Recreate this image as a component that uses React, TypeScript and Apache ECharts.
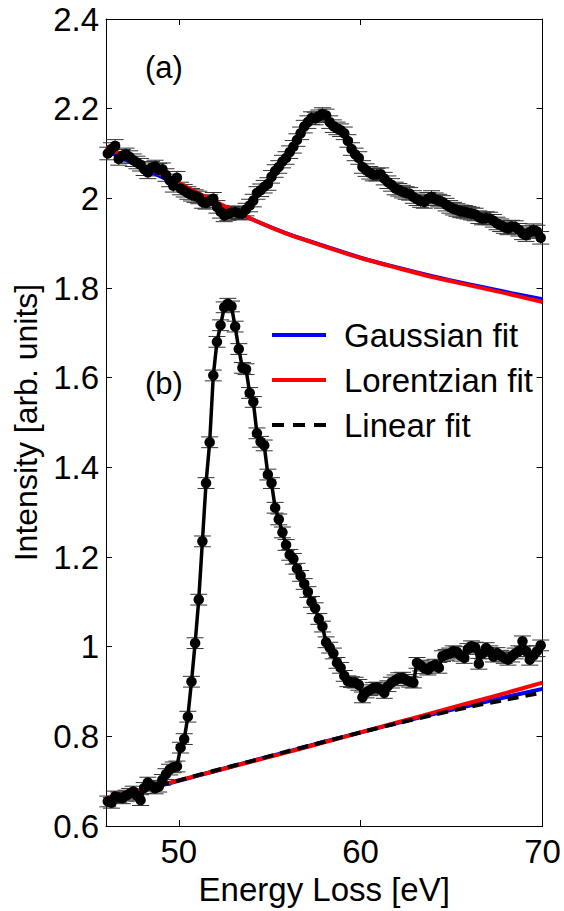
import React, { useEffect, useRef } from "react";
import * as echarts from "echarts";

// Energy grid of the measured spectra (eV)
const ENERGY = [
  46.1, 46.3, 46.5, 46.7, 46.9, 47.1, 47.3, 47.5, 47.7, 47.9,
  48.1, 48.3, 48.5, 48.7, 48.9, 49.1, 49.3, 49.5, 49.7, 49.9,
  50.1, 50.3, 50.5, 50.7, 50.9, 51.1, 51.3, 51.5, 51.7, 51.9,
  52.1, 52.3, 52.5, 52.7, 52.9, 53.1, 53.3, 53.5, 53.7, 53.9,
  54.1, 54.3, 54.5, 54.7, 54.9, 55.1, 55.3, 55.5, 55.7, 55.9,
  56.1, 56.3, 56.5, 56.7, 56.9, 57.1, 57.3, 57.5, 57.7, 57.9,
  58.1, 58.3, 58.5, 58.7, 58.9, 59.1, 59.3, 59.5, 59.7, 59.9,
  60.1, 60.3, 60.5, 60.7, 60.9, 61.1, 61.3, 61.5, 61.7, 61.9,
  62.1, 62.3, 62.5, 62.7, 62.9, 63.1, 63.3, 63.5, 63.7, 63.9,
  64.1, 64.3, 64.5, 64.7, 64.9, 65.1, 65.3, 65.5, 65.7, 65.9,
  66.1, 66.3, 66.5, 66.7, 66.9, 67.1, 67.3, 67.5, 67.7, 67.9,
  68.1, 68.3, 68.5, 68.7, 68.9, 69.1, 69.3, 69.5, 69.7, 69.9,
];

// Spectrum (a)
const SPEC_A = [
  2.100, 2.110, 2.117, 2.088, 2.095, 2.098, 2.092, 2.085, 2.080, 2.075,
  2.065, 2.058, 2.068, 2.071, 2.064, 2.065, 2.052, 2.040, 2.028, 2.046,
  2.022, 2.017, 2.012, 2.008, 2.005, 2.002, 1.992, 1.990, 1.994, 1.999,
  1.981, 1.970, 1.962, 1.965, 1.968, 1.969, 1.967, 1.966, 1.975, 1.984,
  1.995, 2.012, 2.018, 2.026, 2.032, 2.048, 2.061, 2.070, 2.082, 2.090,
  2.103, 2.115, 2.130, 2.145, 2.160, 2.170, 2.179, 2.178, 2.183, 2.188,
  2.185, 2.170, 2.161, 2.156, 2.152, 2.145, 2.128, 2.110, 2.098, 2.090,
  2.070, 2.063, 2.057, 2.053, 2.053, 2.054, 2.044, 2.036, 2.030, 2.022,
  2.019, 2.015, 2.012, 2.010, 2.003, 1.998, 1.994, 1.992, 1.999, 2.003,
  1.998, 1.995, 1.992, 1.986, 1.981, 1.977, 1.974, 1.971, 1.970, 1.968,
  1.966, 1.964, 1.958, 1.955, 1.956, 1.955, 1.950, 1.944, 1.940, 1.936,
  1.933, 1.937, 1.936, 1.930, 1.922, 1.918, 1.925, 1.929, 1.926, 1.912,
];

// Spectrum (b)
const SPEC_B = [
  0.655, 0.652, 0.666, 0.664, 0.662, 0.668, 0.672, 0.677, 0.668, 0.658,
  0.685, 0.697, 0.690, 0.684, 0.688, 0.703, 0.716, 0.726, 0.731, 0.733,
  0.775, 0.794, 0.844, 0.922, 1.008, 1.105, 1.235, 1.365, 1.456, 1.605,
  1.680, 1.717, 1.757, 1.765, 1.759, 1.714, 1.664, 1.622, 1.619, 1.566,
  1.546, 1.476, 1.457, 1.449, 1.384, 1.365, 1.310, 1.284, 1.255, 1.227,
  1.205, 1.196, 1.174, 1.158, 1.140, 1.122, 1.100, 1.086, 1.062, 1.045,
  1.010, 0.998, 0.985, 0.964, 0.953, 0.935, 0.923, 0.921, 0.920, 0.915,
  0.887, 0.898, 0.903, 0.908, 0.909, 0.905, 0.897, 0.912, 0.920, 0.925,
  0.930, 0.931, 0.926, 0.922, 0.920, 0.964, 0.958, 0.952, 0.949, 0.956,
  0.960, 0.953, 0.979, 0.982, 0.985, 0.990, 0.988, 0.980, 0.975, 0.995,
  1.001, 0.998, 0.962, 0.985, 0.997, 0.990, 0.978, 0.986, 0.980, 0.975,
  0.971, 0.978, 0.985, 0.990, 1.012, 0.990, 0.971, 0.980, 0.990, 1.003,
];

const ERR_A = 0.014;
const ERR_B = 0.012;

// Background fits
const FIT_E = [46, 48, 50, 52, 54, 56, 58, 60, 62, 64, 66, 68, 70];
const GAUSS_A = [2.107, 2.068, 2.030, 1.991, 1.954, 1.921, 1.894, 1.868, 1.846, 1.826, 1.808, 1.791, 1.775];
const LOR_A = [2.115, 2.074, 2.034, 1.993, 1.954, 1.920, 1.893, 1.867, 1.845, 1.824, 1.806, 1.788, 1.769];
const GAUSS_B = [0.658, 0.680, 0.701, 0.723, 0.745, 0.766, 0.788, 0.809, 0.830, 0.850, 0.869, 0.888, 0.906];
const LOR_B = [0.662, 0.682, 0.702, 0.723, 0.744, 0.765, 0.787, 0.809, 0.831, 0.853, 0.875, 0.897, 0.920];
const LIN_B = [0.660, 0.681, 0.702, 0.724, 0.745, 0.767, 0.788, 0.809, 0.829, 0.848, 0.866, 0.882, 0.898];

const X_TICKS = [50, 60, 70];
const Y_TICKS = [0.6, 0.8, 1.0, 1.2, 1.4, 1.6, 1.8, 2.0, 2.2, 2.4];
const LEGEND = ["Gaussian fit", "Lorentzian fit", "Linear fit"];

const FONT = "'Liberation Sans', Arial, Helvetica, sans-serif";
const FS = 33;

function pairs(xs: number[], ys: number[]) {
  return xs.map((x, i) => [x, ys[i]]);
}
function errTriples(xs: number[], ys: number[], e: number) {
  return xs.map((x, i) => [x, ys[i], e]);
}

function errorBarSeries(data: number[][]) {
  return {
    type: "custom",
    silent: true,
    clip: false,
    data,
    encode: { x: 0, y: 1 },
    renderItem: (params: any, api: any) => {
      const x = api.value(0);
      const y = api.value(1);
      const e = api.value(2);
      const hi = api.coord([x, y + e]);
      const lo = api.coord([x, y - e]);
      const w = 8.5;
      const st = { stroke: "#333", lineWidth: 1 };
      return {
        type: "group",
        children: [
          { type: "line", shape: { x1: hi[0], y1: hi[1], x2: lo[0], y2: lo[1] }, style: st },
          { type: "line", shape: { x1: hi[0] - w, y1: hi[1], x2: hi[0] + w, y2: hi[1] }, style: st },
          { type: "line", shape: { x1: lo[0] - w, y1: lo[1], x2: lo[0] + w, y2: lo[1] }, style: st },
        ],
      };
    },
  };
}

function dataSeries(name: string, data: number[][]) {
  return {
    type: "line",
    name,
    data,
    clip: false,
    symbol: "circle",
    symbolSize: 10.5,
    lineStyle: { color: "#000", width: 3.5 },
    itemStyle: { color: "#000" },
  };
}

function fitSeries(name: string, ys: number[], color: string, dashed = false) {
  return {
    type: "line",
    name,
    data: pairs(FIT_E, ys),
    smooth: 0.3,
    symbol: "none",
    lineStyle: { color, width: 4, type: dashed ? [11, 7] : "solid" },
    itemStyle: { color },
  };
}

export default function App() {
  const ref = useRef<HTMLDivElement>(null);
  useEffect(() => {
    if (!ref.current) return;
    const chart = echarts.init(ref.current, undefined, { renderer: "svg" });
    const axisCommon = {
      type: "value",
      axisLine: { show: true, onZero: false, lineStyle: { color: "#000", width: 1 } },
      splitLine: { show: false },
    };
    chart.setOption({
      animation: false,
      backgroundColor: "#fff",
      textStyle: { fontFamily: FONT },
      grid: { left: 106, right: 21.5, top: 19, bottom: 78, containLabel: false },
      legend: {
        data: [
          { name: LEGEND[0], icon: "rect" },
          { name: LEGEND[1], icon: "rect" },
          { name: LEGEND[2], icon: "path://M0,0h12v4h-12z M21,0h12v4h-12z M42,0h12v4h-12z" },
        ],
        orient: "vertical",
        left: 272,
        top: 318.5,
        padding: 0,
        itemGap: 12,
        itemWidth: 54,
        itemHeight: 4,
        textStyle: { fontFamily: FONT, fontSize: FS, color: "#000", lineHeight: FS, padding: [0, 0, 0, 13] },
        selectedMode: false,
      },
      xAxis: [
        {
          ...axisCommon,
          position: "bottom",
          min: 46,
          max: 70,
          name: "Energy Loss [eV]",
          nameLocation: "middle",
          nameGap: 45,
          nameTextStyle: { fontFamily: FONT, fontSize: FS, color: "#000" },
          axisTick: { show: true, inside: true, length: 6, customValues: X_TICKS, lineStyle: { color: "#000" } },
          axisLabel: { show: true, customValues: X_TICKS, margin: 9, fontFamily: FONT, fontSize: FS, color: "#000" },
        },
        {
          ...axisCommon,
          position: "top",
          min: 46,
          max: 70,
          axisTick: { show: true, inside: true, length: 6, customValues: X_TICKS, lineStyle: { color: "#000" } },
          axisLabel: { show: false },
        },
      ],
      yAxis: [
        {
          ...axisCommon,
          position: "left",
          min: 0.6,
          max: 2.4,
          name: "Intensity [arb. units]",
          nameLocation: "middle",
          nameGap: 60,
          nameTextStyle: { fontFamily: FONT, fontSize: 32, color: "#000" },
          axisTick: { show: true, inside: true, length: 6, customValues: Y_TICKS, lineStyle: { color: "#000" } },
          axisLabel: {
            show: true,
            customValues: Y_TICKS,
            margin: 7,
            fontFamily: FONT,
            fontSize: FS,
            color: "#000",
            formatter: (v: number) => String(Number(v.toFixed(1))),
          },
        },
        {
          ...axisCommon,
          position: "right",
          min: 0.6,
          max: 2.4,
          axisTick: { show: true, inside: true, length: 6, customValues: Y_TICKS, lineStyle: { color: "#000" } },
          axisLabel: { show: false },
        },
      ],
      graphic: [
        {
          type: "text",
          left: 145,
          top: 52,
          style: { text: "(a)", font: `31px ${FONT}`, fill: "#000" },
        },
        {
          type: "text",
          left: 145,
          top: 368,
          style: { text: "(b)", font: `31px ${FONT}`, fill: "#000" },
        },
      ],
      series: [
        errorBarSeries(errTriples(ENERGY, SPEC_A, ERR_A)),
        errorBarSeries(errTriples(ENERGY, SPEC_B, ERR_B)),
        dataSeries("Spectrum (a)", pairs(ENERGY, SPEC_A)),
        dataSeries("Spectrum (b)", pairs(ENERGY, SPEC_B)),
        fitSeries("Gaussian fit", GAUSS_A, "#0000ff"),
        fitSeries("Lorentzian fit", LOR_A, "#ff0000"),
        fitSeries("Gaussian fit", GAUSS_B, "#0000ff"),
        fitSeries("Lorentzian fit", LOR_B, "#ff0000"),
        fitSeries("Linear fit", LIN_B, "#000000", true),
      ],
    });
    return () => chart.dispose();
  }, []);
  return (
    <div
      ref={ref}
      style={{ position: "fixed", left: 0, top: 0, width: 564, height: 911, background: "#fff" }}
    />
  );
}
